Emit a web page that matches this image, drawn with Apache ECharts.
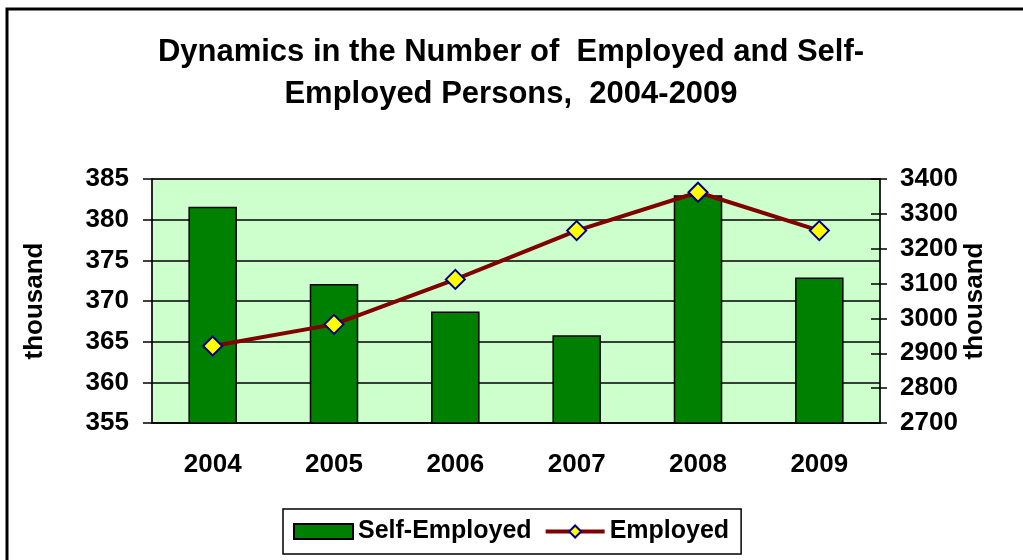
<!DOCTYPE html>
<html>
<head>
<meta charset="utf-8">
<script src="https://cdn.jsdelivr.net/npm/echarts@6/dist/echarts.min.js"></script>
<style>
html,body{margin:0;padding:0;background:#fff;}
#c{width:1023px;height:560px;}
</style>
</head>
<body>
<div id="c"></div>
<script>
const years = ['2004','2005','2006','2007','2008','2009'];
const selfEmployed = [381.6, 372.1, 368.7, 365.8, 383.0, 372.9];
const employed = [2921, 2983, 3112, 3252, 3362, 3252];
const titleText = 'Dynamics in the Number of  Employed and Self-\nEmployed Persons,  2004-2009';
const unitLabel = 'thousand';

const FONT = 'Liberation Sans, Arial, sans-serif';
const chart = echarts.init(document.getElementById('c'), null, {renderer:'canvas'});
const lbl = {color:'#000', fontFamily:FONT, fontWeight:'bold', fontSize:26};

chart.setOption({
  animation:false,
  backgroundColor:'#fff',
  graphic:[{type:'rect', shape:{x:7, y:9, width:1100, height:600}, style:{fill:'none', stroke:'#000', lineWidth:3}, z:-1}],
  title:{text:titleText, left:506, textAlign:'center', top:26, textStyle:{fontFamily:FONT, fontWeight:'bold', fontSize:31, color:'#000', lineHeight:42}},
  legend:{
    left:283, top:509, padding:[10,12,10,10], itemGap:12, itemWidth:59, itemHeight:15,
    borderColor:'#000', borderWidth:1.5,
    textStyle:{fontFamily:FONT, fontWeight:'bold', fontSize:25, color:'#000'},
    data:[{name:'Self-Employed', icon:'rect'}, {name:'Employed', lineStyle:{width:4, color:'#800000'}}]
  },
  grid:{left:152, right:143, top:179, bottom:137, show:true, backgroundColor:'#CCFFCC', borderColor:'#808080', borderWidth:1.5},
  xAxis:[
    {type:'category', data:years, boundaryGap:true,
     axisLine:{lineStyle:{color:'#000', width:1.5}},
     axisTick:{length:9, lineStyle:{color:'#000', width:1.5}},
     axisLabel:Object.assign({margin:29}, lbl)},
    {type:'category', data:years, position:'bottom', boundaryGap:true,
     axisLine:{show:false}, axisLabel:{show:false},
     axisTick:{inside:true, length:8, lineStyle:{color:'#000', width:1.5}}}
  ],
  yAxis:[
    {type:'value', min:355, max:385, interval:5, position:'left',
     name:unitLabel, nameLocation:'middle', nameGap:104, nameRotate:90,
     nameTextStyle:{fontFamily:FONT, fontWeight:'bold', fontSize:26, color:'#000'},
     axisLine:{show:true, lineStyle:{color:'#000', width:1.5}},
     axisTick:{show:true, length:9, lineStyle:{color:'#000', width:1.5}},
     splitLine:{show:true, lineStyle:{color:'#000', width:1.5}},
     axisLabel:Object.assign({margin:23}, lbl)},
    {type:'value', min:2700, max:3400, interval:100, position:'right',
     name:unitLabel, nameLocation:'middle', nameGap:95, nameRotate:90, nameMoveOverlap:false,
     nameTextStyle:{fontFamily:FONT, fontWeight:'bold', fontSize:26, color:'#000', verticalAlign:'middle'},
     axisLine:{show:true, lineStyle:{color:'#000', width:1.5}},
     axisTick:{show:true, length:7, lineStyle:{color:'#000', width:1.5}},
     splitLine:{show:false},
     axisLabel:Object.assign({margin:20, formatter:function(v){return String(v);}}, lbl)},
    {type:'value', min:2700, max:3400, interval:100, position:'right',
     axisLine:{show:false}, axisLabel:{show:false}, splitLine:{show:false},
     axisTick:{show:true, inside:true, length:9, lineStyle:{color:'#000', width:1.5}}}
  ],
  series:[
    {name:'Self-Employed', type:'bar', xAxisIndex:0, yAxisIndex:0, data:selfEmployed, barWidth:'40%',
     itemStyle:{color:'#008000', borderColor:'#000', borderWidth:1.5}},
    {name:'Employed', type:'line', xAxisIndex:0, yAxisIndex:1, data:employed,
     lineStyle:{color:'#800000', width:4}, itemStyle:{color:'#FFFF00', borderColor:'#000080', borderWidth:2},
     symbol:'diamond', symbolSize:19, z:5}
  ]
});
</script>
</body>
</html>
